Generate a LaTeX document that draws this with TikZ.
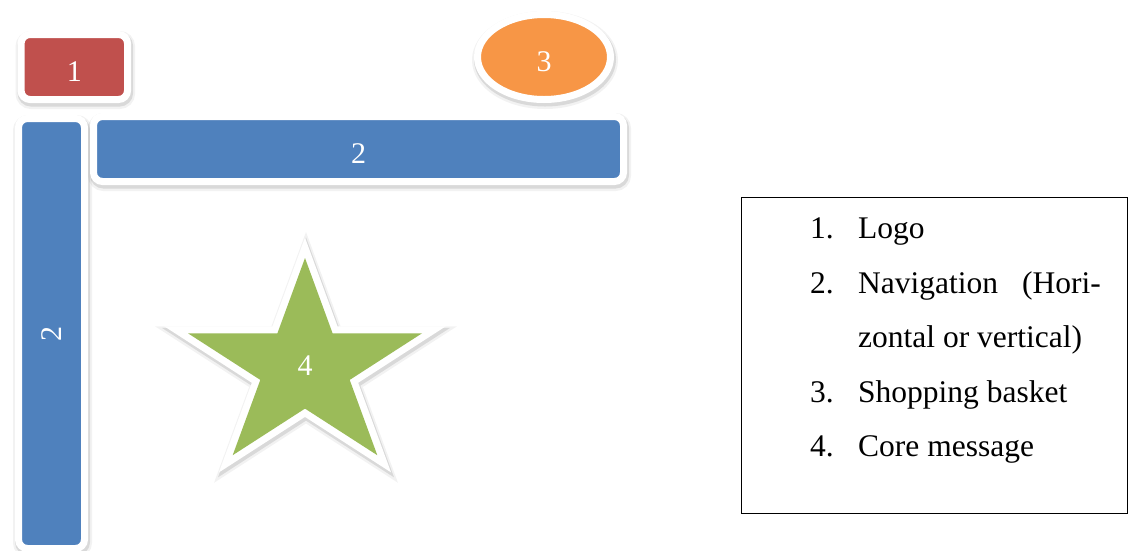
\documentclass[tikz,border=0pt]{standalone}
\usepackage{fontspec}
\setmainfont{Liberation Serif}
\usetikzlibrary{shapes.geometric}
\definecolor{logored}{HTML}{C0504D}
\definecolor{basketorange}{HTML}{F79646}
\definecolor{navblue}{HTML}{4F81BD}
\definecolor{stargreen}{HTML}{9BBB59}
\tikzset{
  softshadow/.style={
    preaction={draw=black, draw opacity=0.05, line width=13, transform canvas={xshift=1pt,yshift=-3pt}},
    preaction={draw=black, draw opacity=0.10, line width=9, transform canvas={xshift=1pt,yshift=-2.5pt}}},
  shapebox/.style={softshadow, draw=white, line width=7, inner sep=0, text height=28pt, text depth=0pt,
    font=\fontsize{30}{36}\selectfont, text=white},
  roundbox/.style={shapebox, rectangle, rounded corners=9},
  listtext/.style={anchor=base west, inner sep=0, font=\fontsize{31.5}{38}\selectfont},
}
\begin{document}
\begin{tikzpicture}[x=1pt,y=-1pt]
\useasboundingbox[fill=white] (0,0) rectangle (1128,550);

% vertical navigation bar
\node[roundbox, fill=navblue, minimum width=66, minimum height=430] (vnav) at (51.5,333.5) {};
\node[rotate=90, text=white, inner sep=0, font=\fontsize{30}{36}\selectfont] (vnavlabel) at (52,334) {2};

% horizontal navigation bar
\node[roundbox, fill=navblue, minimum width=530, minimum height=65] (hnav) at (358.5,149) {2};

% logo
\node[roundbox, fill=logored, minimum width=106.5, minimum height=65] (logo) at (74.3,67) {1};

% shopping basket
\node[shapebox, ellipse, fill=basketorange, minimum width=133, minimum height=85] (basket) at (544,57) {3};

% core message star
\path[line join=miter,
  preaction={draw=black, draw opacity=0.05, line width=20, transform canvas={xshift=1pt,yshift=-3pt}},
  preaction={draw=black, draw opacity=0.10, line width=16, transform canvas={xshift=1pt,yshift=-2.5pt}},
  preaction={draw=white, line width=14},
  fill=stargreen]
  (305,258) -- (332.6,333.3) -- (422,333.3) -- (349.7,379.9) -- (377.3,455.2)
  -- (305,408.6) -- (232.7,455.2) -- (260.3,379.9) -- (188,333.3) -- (277.4,333.3) -- cycle;
\node[text=white, inner sep=0, font=\fontsize{30}{36}\selectfont] (core) at (305,366) {4};

% legend
\node[draw=black, line width=1, minimum width=386, minimum height=316, inner sep=0] (legend) at (934.5,355) {};
\node[listtext] (n1) at (810,238.5) {1.};
\node[listtext] (t1) at (858,238.5) {Logo};
\node[listtext] (n2) at (810,293) {2.};
\node[listtext] (t2) at (858,293) {Navigation};
\node[listtext, anchor=base east] (t2b) at (1101,293) {(Hori-};
\node[listtext] (t2c) at (858,347.8) {zontal or vertical)};
\node[listtext] (n3) at (810,402.7) {3.};
\node[listtext] (t3) at (858,402.7) {Shopping basket};
\node[listtext] (n4) at (810,456.7) {4.};
\node[listtext] (t4) at (858,456.7) {Core message};
\end{tikzpicture}
\end{document}
